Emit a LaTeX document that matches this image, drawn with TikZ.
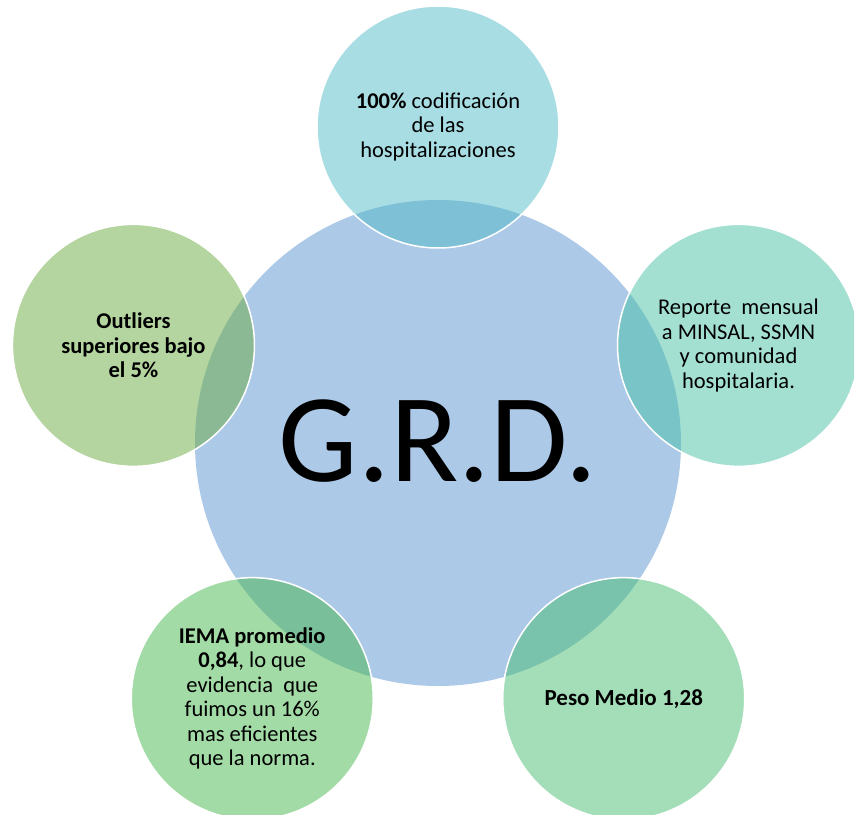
\documentclass[tikz,border=0pt]{standalone}
\usepackage{fontspec}
\setmainfont{Carlito}
\usepackage{xcolor}
\usepackage{tikz}

\definecolor{grdblue}{RGB}{173,201,232}
\definecolor{codifteal}{RGB}{81,187,199}
\definecolor{reportegreen}{RGB}{71,193,165}
\definecolor{outlierolive}{RGB}{107,171,65}
\definecolor{iemagreen}{RGB}{71,183,77}
\definecolor{pesogreen}{RGB}{71,189,113}

\tikzset{
	bubble/.style={circle, minimum size=242pt, inner sep=0pt, draw=white, line width=1.5pt,
		fill opacity=0.5, text opacity=1, align=center,
		font=\fontsize{22.5}{24.5}\selectfont}
}

\begin{document}
\begin{tikzpicture}[x=1pt, y=1pt]
				\useasboundingbox (-438,-371) rectangle (416,443);
				
				% centre
				\node [circle, minimum size=486pt, inner sep=0pt, fill=grdblue, font=\fontsize{126}{130}\selectfont] (grd) at (0,0) {\raisebox{5pt}{G.R.D.}};
				
				% outer circles, on a pentagon round the centre
				\node [bubble, fill=codifteal] (codif) at (90:316) {\textbf{100\%} codificación\\de las\\hospitalizaciones};
				\node [bubble, fill=reportegreen] (reporte) at (18:316) {Reporte~~mensual\\a MINSAL, SSMN\\y comunidad\\hospitalaria.};
				\node [bubble, fill=outlierolive, font=\fontsize{22.5}{24.5}\selectfont\bfseries] (outliers) at ([xshift=-4pt]162:316) {Outliers\\superiores bajo\\el 5\%};
				\node [bubble, fill=iemagreen] (iema) at (234:316) {\textbf{IEMA promedio}\\\textbf{0,84}, lo que\\evidencia~ que\\fuimos un 16\%\\mas eficientes\\que la norma.};
				\node [bubble, fill=pesogreen, font=\fontsize{23}{25}\selectfont\bfseries] (peso) at (306:316) {Peso Medio 1,28};
				\end{tikzpicture}
\end{document}
